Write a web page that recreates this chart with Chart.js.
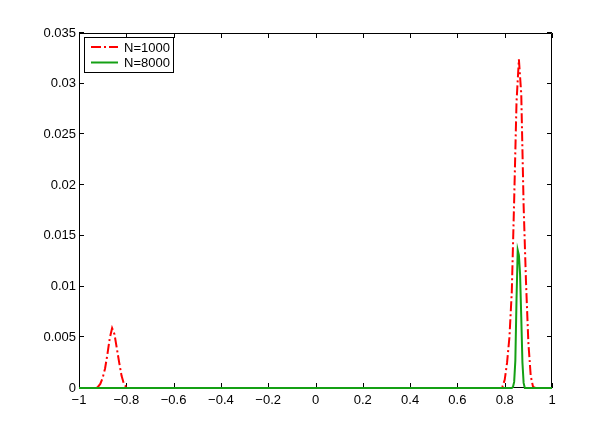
<!DOCTYPE html>
<html>
<head>
<meta charset="utf-8">
<script src="https://cdn.jsdelivr.net/npm/chart.js@4.4.1/dist/chart.umd.min.js"></script>
<style>
  html, body { margin: 0; padding: 0; background: #fff; }
</style>
</head>
<body>
<canvas id="mycanvas" width="610" height="436"></canvas>
<script>
// series: N=1000 (red dash-dot) and N=8000 (green solid)
var xN1000 = [-1, -0.93, -0.92, -0.91, -0.90, -0.89, -0.88, -0.87, -0.86, -0.85, -0.84, -0.83, -0.82, -0.81, -0.80, -0.79,
              0.78, 0.79, 0.80, 0.81, 0.82, 0.83, 0.84, 0.85, 0.86, 0.87, 0.88, 0.89, 0.90, 0.91, 0.92, 0.93, 1];
var yN1000 = [0, 0, 0.0001, 0.0004, 0.0010, 0.0019, 0.0033, 0.0049, 0.0059, 0.0053, 0.0039, 0.0025, 0.0012, 0.0004, 0.0001, 0,
              0, 0.0001, 0.0008, 0.0025, 0.0050, 0.0095, 0.0185, 0.0282, 0.0324, 0.0290, 0.0180, 0.0105, 0.0045, 0.0012, 0.0001, 0, 0];

var xN8000 = [-1, 0.83, 0.835, 0.84, 0.845, 0.85, 0.855, 0.86, 0.865, 0.87, 0.875, 0.88, 0.885, 1];
var yN8000 = [0, 0, 0.0001, 0.0006, 0.0027, 0.0088, 0.0136, 0.0131, 0.0112, 0.0070, 0.0025, 0.0005, 0, 0];

var seriesLabels = ['N=1000', 'N=8000'];

var xTicks = [-1, -0.8, -0.6, -0.4, -0.2, 0, 0.2, 0.4, 0.6, 0.8, 1];
var xTickLabels = ['\u22121', '\u22120.8', '\u22120.6', '\u22120.4', '\u22120.2', '0', '0.2', '0.4', '0.6', '0.8', '1'];
var yTicks = [0, 0.005, 0.01, 0.015, 0.02, 0.025, 0.03, 0.035];
var yTickLabels = ['0', '0.005', '0.01', '0.015', '0.02', '0.025', '0.03', '0.035'];

var fontFamily = '"Liberation Sans", Arial, Helvetica, sans-serif';
var fontSize = 13;

function toPoints(xs, ys) {
  var pts = [];
  for (var i = 0; i < xs.length; i++) pts.push({ x: xs[i], y: ys[i] });
  return pts;
}

// matlab style box, inward ticks and legend
var boxPlugin = {
  id: 'matlabBox',
  beforeDatasetsDraw: function(chart) {
    var ctx = chart.ctx, a = chart.chartArea;
    var xs = chart.scales.x, ys = chart.scales.y;
    var tl = 5;
    ctx.save();
    ctx.strokeStyle = '#000';
    ctx.lineWidth = 1;
    ctx.beginPath();
    ctx.rect(Math.round(a.left) + 0.5, Math.round(a.top) + 0.5,
             Math.round(a.right - a.left) - 1, Math.round(a.bottom - a.top) - 1);
    ctx.stroke();
    ctx.beginPath();
    xTicks.forEach(function(v) {
      var px = Math.round(xs.getPixelForValue(v)) + 0.5;
      ctx.moveTo(px, a.bottom); ctx.lineTo(px, a.bottom - tl);
      ctx.moveTo(px, a.top); ctx.lineTo(px, a.top + tl);
    });
    yTicks.forEach(function(v) {
      var py = Math.round(ys.getPixelForValue(v)) - 0.5;
      ctx.moveTo(a.left, py); ctx.lineTo(a.left + tl, py);
      ctx.moveTo(a.right, py); ctx.lineTo(a.right - tl, py);
    });
    ctx.stroke();
    ctx.restore();
  },
  afterDraw: function(chart) {
    var ctx = chart.ctx;
    var bx = 84, by = 37, bw = 89, bh = 35;
    ctx.save();
    ctx.fillStyle = '#fff';
    ctx.fillRect(bx, by, bw, bh);
    ctx.strokeStyle = '#000';
    ctx.lineWidth = 1;
    ctx.strokeRect(bx + 0.5, by + 0.5, bw, bh);
    chart.data.datasets.forEach(function(ds, i) {
      var ly = by + 10 + i * 15.5;
      ctx.strokeStyle = ds.borderColor;
      ctx.lineWidth = ds.borderWidth;
      ctx.setLineDash(ds.borderDash || []);
      ctx.beginPath();
      ctx.moveTo(bx + 7, ly);
      ctx.lineTo(bx + 34, ly);
      ctx.stroke();
      ctx.setLineDash([]);
      ctx.fillStyle = '#000';
      ctx.font = fontSize + 'px ' + fontFamily;
      ctx.textBaseline = 'middle';
      ctx.fillText(ds.label, bx + 40, ly + 1);
    });
    ctx.restore();
  }
};

var ctx = document.getElementById('mycanvas');

var chart = new Chart(ctx, {
  type: 'line',
  data: {
    datasets: [
      {
        label: seriesLabels[0],
        data: toPoints(xN1000, yN1000),
        borderColor: '#ff0000',
        borderWidth: 2,
        borderDash: [10, 3, 2, 3],
        pointRadius: 0,
        tension: 0,
        fill: false,
        clip: false,
        order: 2
      },
      {
        label: seriesLabels[1],
        data: toPoints(xN8000, yN8000),
        borderColor: '#14a014',
        borderWidth: 2,
        pointRadius: 0,
        tension: 0,
        fill: false,
        clip: false,
        order: 1
      }
    ]
  },
  options: {
    responsive: false,
    animation: false,
    devicePixelRatio: 1,
    layout: { padding: { top: 33, right: 58, left: 0, bottom: 0 } },
    plugins: { legend: { display: false }, tooltip: { enabled: false } },
    scales: {
      x: {
        type: 'linear',
        min: -1,
        max: 1,
        afterBuildTicks: function(s) { s.ticks = xTicks.map(function(v) { return { value: v }; }); },
        afterFit: function(s) { s.height = 48; },
        ticks: {
          autoSkip: false,
          maxRotation: 0,
          padding: 5,
          color: '#000',
          font: { family: fontFamily, size: fontSize },
          callback: function(v, i) { return xTickLabels[i]; }
        },
        grid: { display: false, drawTicks: false },
        border: { display: false }
      },
      y: {
        type: 'linear',
        min: 0,
        max: 0.035,
        afterBuildTicks: function(s) { s.ticks = yTicks.map(function(v) { return { value: v }; }); },
        afterFit: function(s) { s.width = 79; },
        ticks: {
          autoSkip: false,
          padding: 3,
          color: '#000',
          font: { family: fontFamily, size: fontSize },
          callback: function(v, i) { return yTickLabels[i]; }
        },
        grid: { display: false, drawTicks: false },
        border: { display: false }
      }
    }
  },
  plugins: [boxPlugin]
});
</script>
</body>
</html>
